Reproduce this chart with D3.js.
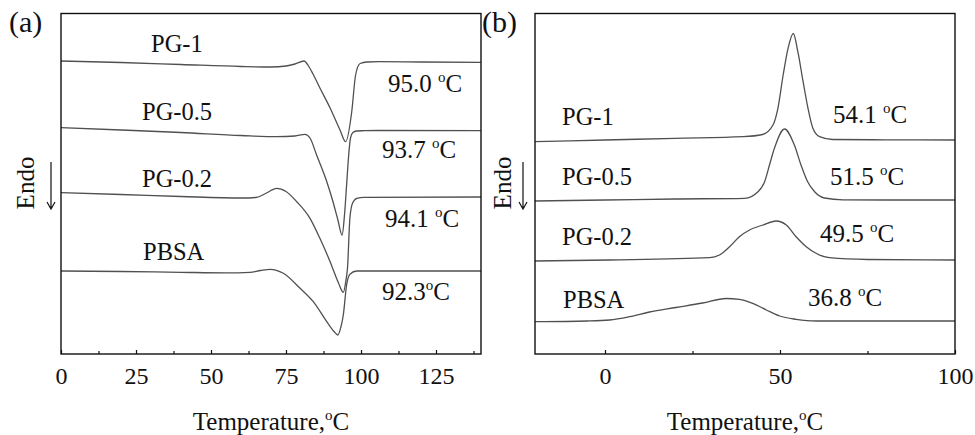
<!DOCTYPE html>
<html>
<head>
<meta charset="utf-8">
<script src="https://cdn.jsdelivr.net/npm/d3@7"></script>
<style>
  body { margin: 0; background: #fff; }
  text { font-family: "Liberation Serif", "Times New Roman", serif; fill: #111; }
</style>
</head>
<body>
<svg id="mainsvg" width="975" height="435"></svg>
<script>
// ---- data: temperature (°C) and heat flow (a.u., shifted stacks) ----
// (a) heating scans
const a_pg1_T  = [0, 20, 40, 60, 70, 75, 78, 81, 82.5, 84, 86.3, 89.7, 93, 94.9, 96.9, 98.2, 99.7, 102, 106, 120, 140];
const a_pg1_v  = [29.3, 29.15, 28.95, 28.75, 28.7, 28.8, 29.0, 29.3, 28.8, 28.0, 26.6, 24.6, 22.4, 21.23, 24.2, 27.9, 29.05, 29.2, 29.23, 29.2, 29.17];
const a_pg05_T = [0, 20, 40, 60, 72, 78, 81.3, 83, 85.2, 88.6, 90.5, 92.3, 93.7, 94.5, 95.2, 95.9, 96.5, 97.3, 98.5, 101, 106, 140];
const a_pg05_v = [22.63, 22.4, 22.15, 21.85, 21.73, 21.8, 21.97, 21.6, 19.9, 17.23, 15.4, 13.4, 11.9, 13.9, 16.9, 19.9, 21.6, 22.15, 22.3, 22.33, 22.35, 22.33];
const a_pg02_T = [0, 20, 40, 60, 65, 68.5, 71.9, 75, 78.6, 83, 86.3, 89.7, 92.5, 94.1, 95, 95.5, 96.3, 97.2, 98.6, 101, 140];
const a_pg02_v = [16.13, 15.95, 15.75, 15.6, 15.65, 16.1, 16.57, 16.25, 15.23, 13.57, 11.57, 9.23, 7.1, 6.17, 7.4, 8.6, 13.6, 15.1, 15.57, 15.67, 15.7];
const a_pbsa_T = [0, 20, 40, 55, 63, 66.5, 69.7, 74.1, 79.7, 84.1, 88.6, 91, 92.3, 93.3, 94.1, 95.2, 96.3, 98.6, 105, 140];
const a_pbsa_v = [8.3, 8.25, 8.17, 8.12, 8.17, 8.35, 8.47, 8.07, 6.57, 5.23, 3.23, 2.25, 1.9, 2.7, 3.9, 6.9, 7.97, 8.3, 8.3, 8.3];

// (b) cooling scans
const b_pg1_T  = [-20, 0, 20, 39.5, 45, 48, 49.4, 50.9, 52.3, 53.8, 55.1, 56.6, 58, 59.4, 61.3, 65, 80, 100];
const b_pg1_v  = [21.23, 21.4, 21.57, 21.73, 21.95, 22.9, 24.57, 27.9, 30.57, 32.05, 30.23, 27.23, 24.57, 22.57, 21.73, 21.45, 21.42, 21.4];
const b_pg05_T = [-20, 0, 20, 39.9, 43.7, 45.6, 47, 48.4, 51.3, 54.1, 56, 57.9, 59.9, 62.7, 68, 80, 100];
const b_pg05_v = [15.3, 15.4, 15.5, 15.57, 16.23, 17.23, 18.9, 20.57, 22.5, 20.9, 18.9, 17.23, 16.23, 15.6, 15.42, 15.4, 15.4];
const b_pg02_T = [-20, 1.3, 29.9, 32.7, 35.6, 38.4, 41.3, 45.1, 48.9, 51.8, 54.6, 57.5, 60.3, 64.1, 75, 100];
const b_pg02_v = [9.3, 9.4, 9.63, 9.9, 10.73, 11.73, 12.4, 12.9, 13.3, 12.9, 11.73, 10.73, 10.07, 9.63, 9.45, 9.4];
const b_pbsa_T = [-20, -5, 1.3, 7, 12.7, 20.3, 27.9, 34.6, 38.4, 42.2, 46.1, 49.9, 54.6, 60.3, 80, 100];
const b_pbsa_v = [3.23, 3.3, 3.4, 3.73, 4.2, 4.65, 5.1, 5.55, 5.47, 5.07, 4.4, 3.8, 3.47, 3.3, 3.3, 3.3];

const aNames = ["PG-1", "PG-0.5", "PG-0.2", "PBSA"];
const aPeaks = ["95.0 ", "93.7 ", "94.1 ", "92.3"];
const bNames = ["PG-1", "PG-0.5", "PG-0.2", "PBSA"];
const bPeaks = ["54.1 ", "51.5 ", "49.5 ", "36.8 "];

const aXTicks = [0, 25, 50, 75, 100, 125];
const aXMinor = [12.5, 37.5, 62.5, 87.5, 112.5, 137.5];
const bXTicks = [0, 50, 100];
const bXMinor = [25, 75];

const zip = (T, v) => T.map((t, i) => ({ t: t, v: v[i] }));

const svg = d3.select('#mainsvg');
const top_ = 13.5, bottom = 354;

const yScale = d3.scaleLinear().domain([0, 34.05]).range([bottom, top_]);

function degree(sel, size) {
  sel.append('tspan').attr('dy', -10).attr('font-size', size).text('o');
  sel.append('tspan').attr('dy', 10).text('C');
}

function panel(opt) {
  const x = d3.scaleLinear().domain(opt.domain).range([opt.left, opt.right]);
  const g = svg.append('g');

  // ticks (inward)
  const major = d3.axisBottom(x).tickValues(opt.ticks).tickSizeInner(-4).tickSizeOuter(0).tickPadding(13);
  const minor = d3.axisBottom(x).tickValues(opt.minor).tickSizeInner(-3).tickSizeOuter(0).tickFormat('');
  const ax = g.append('g').attr('transform', `translate(0,${bottom})`).call(major);
  g.append('g').attr('transform', `translate(0,${bottom})`).call(minor).select('.domain').remove();
  ax.select('.domain').remove();
  ax.selectAll('text').attr('font-size', 24).attr('fill', '#111');
  g.selectAll('.tick line').attr('stroke', '#111').attr('stroke-width', 1.2);

  // curves
  const line = d3.line().x(d => x(d.t)).y(d => yScale(d.v)).curve(d3.curveMonotoneX);
  g.selectAll('.curve').data(opt.series).join('path').attr('class', 'curve')
    .attr('d', d => line(d))
    .attr('fill', 'none').attr('stroke', '#505050').attr('stroke-width', 1.3);

  // frame
  g.append('rect').attr('x', opt.left).attr('y', top_)
    .attr('width', opt.right - opt.left).attr('height', bottom - top_)
    .attr('fill', 'none').attr('stroke', '#111').attr('stroke-width', 1.4);

  // sample labels
  g.selectAll('.name').data(opt.names).join('text').attr('class', 'name')
    .attr('x', (d, i) => opt.nameX[i]).attr('y', (d, i) => opt.nameY[i])
    .attr('font-size', 24.5).text(d => d);

  // peak temperatures
  const pk = g.selectAll('.peak').data(opt.peaks).join('text').attr('class', 'peak')
    .attr('x', (d, i) => opt.peakX[i]).attr('y', (d, i) => opt.peakY[i])
    .attr('font-size', 25);
  pk.append('tspan').text(d => d);
  degree(pk, 15);

  // axis title
  const t = g.append('text').attr('x', (opt.left + opt.right) / 2).attr('y', 430)
    .attr('text-anchor', 'middle').attr('font-size', 25);
  t.append('tspan').text('Temperature,');
  degree(t, 15);

  // panel letter
  g.append('text').attr('x', opt.letterX).attr('y', 32).attr('font-size', 30).text(opt.letter);

  // Endo + arrow
  g.append('text').attr('transform', `translate(${opt.endoX},183) rotate(-90)`)
    .attr('text-anchor', 'middle').attr('font-size', 25).text('Endo');
  const ax0 = opt.arrowX;
  g.append('path').attr('d', `M${ax0},162V209M${ax0 - 4},202L${ax0},209L${ax0 + 4},202`)
    .attr('fill', 'none').attr('stroke', '#111').attr('stroke-width', 1.2);
}

panel({
  domain: [0, 140], left: 61, right: 481,
  ticks: aXTicks, minor: aXMinor,
  series: [zip(a_pg1_T, a_pg1_v), zip(a_pg05_T, a_pg05_v), zip(a_pg02_T, a_pg02_v), zip(a_pbsa_T, a_pbsa_v)],
  names: aNames, nameX: [151, 142, 142, 143], nameY: [52, 120, 187, 260],
  peaks: aPeaks, peakX: [388, 382, 385, 382], peakY: [92, 158, 227, 300],
  letter: '(a)', letterX: 9, endoX: 34, arrowX: 51
});

panel({
  domain: [-20, 100], left: 535, right: 955,
  ticks: bXTicks, minor: bXMinor,
  series: [zip(b_pg1_T, b_pg1_v), zip(b_pg05_T, b_pg05_v), zip(b_pg02_T, b_pg02_v), zip(b_pbsa_T, b_pbsa_v)],
  names: bNames, nameX: [562, 562, 562, 563], nameY: [125, 185, 245, 308],
  peaks: bPeaks, peakX: [833, 830, 820, 808], peakY: [123, 185, 242, 306],
  letter: '(b)', letterX: 482, endoX: 511, arrowX: 523
});
</script>
</body>
</html>
